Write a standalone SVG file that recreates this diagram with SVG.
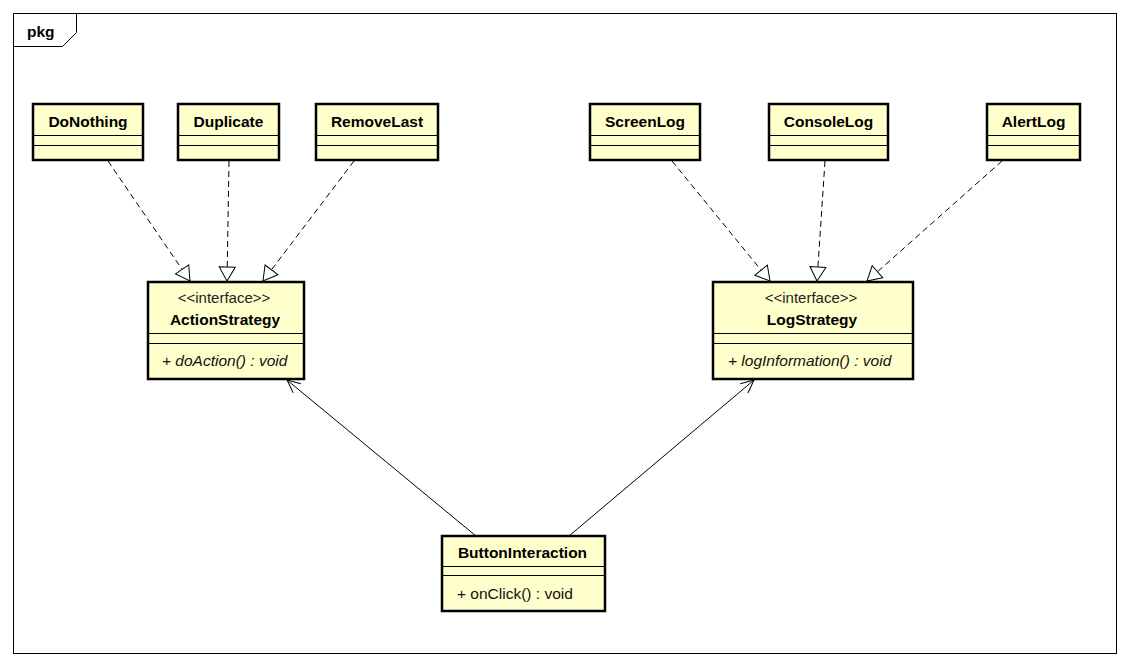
<svg xmlns="http://www.w3.org/2000/svg" width="1129" height="666" viewBox="0 0 1129 666">
  <style>
    .frame { fill: #ffffff; stroke: #000000; stroke-width: 1; }
    .box { fill: #ffffcc; stroke: #000000; stroke-width: 2.5; }
    .sep { stroke: #000000; stroke-width: 1; fill: none; }
    .name { font-family: "Liberation Sans", Arial, sans-serif; font-size: 15.5px; font-weight: bold; fill: #000000; text-anchor: middle; }
    .stereo { font-family: "Liberation Sans", Arial, sans-serif; font-size: 15px; fill: #222222; text-anchor: middle; }
    .op { font-family: "Liberation Sans", Arial, sans-serif; font-size: 15.5px; fill: #111111; }
    .abstract { font-style: italic; }
    .realize { fill: none; stroke: #000000; stroke-width: 1; stroke-dasharray: 6 4; marker-end: url(#gen); }
    .assoc { fill: none; stroke: #000000; stroke-width: 1; marker-end: url(#open); }
  </style>
  <defs>
    <marker id="gen" viewBox="-1 -9 17 18" refX="14" refY="0" markerWidth="17" markerHeight="18" markerUnits="userSpaceOnUse" orient="auto">
      <path d="M0,-8 L14,0 L0,8 Z" fill="#ffffff" stroke="#000000" stroke-width="1" stroke-dasharray="none"/>
    </marker>
    <marker id="open" viewBox="-1 -8 15 16" refX="13" refY="0" markerWidth="15" markerHeight="16" markerUnits="userSpaceOnUse" orient="auto">
      <path d="M0,-6 L13,0 L0,6" fill="none" stroke="#000000" stroke-width="1"/>
    </marker>
  </defs>

  <rect width="1129" height="666" fill="#ffffff"/>

  <!-- package frame -->
  <g id="pkg">
    <rect class="frame" x="13.5" y="13.5" width="1103" height="640"/>
    <path class="sep" d="M13.5,46.5 H62.5 L76.5,32.5 V13.5"/>
    <text x="27" y="37" font-family="'Liberation Sans', Arial, sans-serif" font-size="15.5" font-weight="bold">pkg</text>
  </g>

  <!-- connectors -->
  <g id="connectors">
    <path class="realize" d="M108,161 L190,281"/>
    <path class="realize" d="M229,161 L227,281"/>
    <path class="realize" d="M354,161 L263,281"/>
    <path class="realize" d="M672,161 L770,281"/>
    <path class="realize" d="M825,161 L817,281"/>
    <path class="realize" d="M1002,161 L867,281"/>
    <path class="assoc" d="M476,536 L287,380"/>
    <path class="assoc" d="M569,536 L754,380"/>
  </g>

  <!-- strategy implementations -->
  <g id="DoNothing">
    <rect class="box" x="33" y="104" width="110" height="56"/>
    <line class="sep" x1="33" y1="135.5" x2="143" y2="135.5"/>
    <line class="sep" x1="33" y1="145.5" x2="143" y2="145.5"/>
    <text class="name" x="88" y="127">DoNothing</text>
  </g>
  <g id="Duplicate">
    <rect class="box" x="178" y="104" width="101" height="56"/>
    <line class="sep" x1="178" y1="135.5" x2="279" y2="135.5"/>
    <line class="sep" x1="178" y1="145.5" x2="279" y2="145.5"/>
    <text class="name" x="228.5" y="127">Duplicate</text>
  </g>
  <g id="RemoveLast">
    <rect class="box" x="316" y="104" width="122" height="56"/>
    <line class="sep" x1="316" y1="135.5" x2="438" y2="135.5"/>
    <line class="sep" x1="316" y1="145.5" x2="438" y2="145.5"/>
    <text class="name" x="377" y="127">RemoveLast</text>
  </g>
  <g id="ScreenLog">
    <rect class="box" x="590" y="104" width="110" height="56"/>
    <line class="sep" x1="590" y1="135.5" x2="700" y2="135.5"/>
    <line class="sep" x1="590" y1="145.5" x2="700" y2="145.5"/>
    <text class="name" x="645" y="127">ScreenLog</text>
  </g>
  <g id="ConsoleLog">
    <rect class="box" x="769" y="104" width="119" height="56"/>
    <line class="sep" x1="769" y1="135.5" x2="888" y2="135.5"/>
    <line class="sep" x1="769" y1="145.5" x2="888" y2="145.5"/>
    <text class="name" x="828.5" y="127">ConsoleLog</text>
  </g>
  <g id="AlertLog">
    <rect class="box" x="987" y="104" width="93" height="56"/>
    <line class="sep" x1="987" y1="135.5" x2="1080" y2="135.5"/>
    <line class="sep" x1="987" y1="145.5" x2="1080" y2="145.5"/>
    <text class="name" x="1033.5" y="127">AlertLog</text>
  </g>

  <!-- interfaces -->
  <g id="ActionStrategy">
    <rect class="box" x="148" y="282" width="156" height="97"/>
    <line class="sep" x1="148" y1="333.5" x2="304" y2="333.5"/>
    <line class="sep" x1="148" y1="343.5" x2="304" y2="343.5"/>
    <text class="stereo" x="224" y="303">&lt;&lt;interface&gt;&gt;</text>
    <text class="name" x="225" y="325">ActionStrategy</text>
    <text class="op abstract" x="162" y="366">+ doAction() : void</text>
  </g>
  <g id="LogStrategy">
    <rect class="box" x="713" y="282" width="200" height="97"/>
    <line class="sep" x1="713" y1="333.5" x2="913" y2="333.5"/>
    <line class="sep" x1="713" y1="343.5" x2="913" y2="343.5"/>
    <text class="stereo" x="811" y="303">&lt;&lt;interface&gt;&gt;</text>
    <text class="name" x="812" y="325">LogStrategy</text>
    <text class="op abstract" x="728" y="366">+ logInformation() : void</text>
  </g>

  <!-- context class -->
  <g id="ButtonInteraction">
    <rect class="box" x="442" y="536" width="163" height="75"/>
    <line class="sep" x1="442" y1="566.5" x2="605" y2="566.5"/>
    <line class="sep" x1="442" y1="575.5" x2="605" y2="575.5"/>
    <text class="name" x="522.5" y="558">ButtonInteraction</text>
    <text class="op" x="457" y="599">+ onClick() : void</text>
  </g>
</svg>
